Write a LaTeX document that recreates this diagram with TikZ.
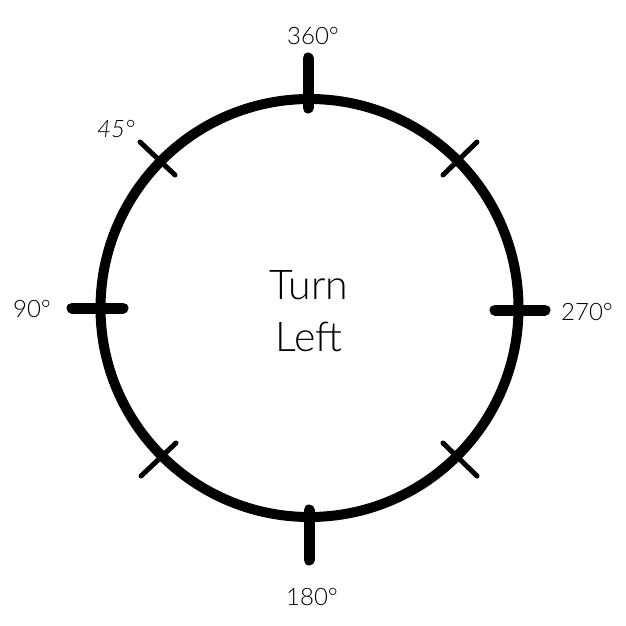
\documentclass[tikz,border=0pt]{standalone}
\usepackage{fontspec}
\setmainfont{Lato Light}
\begin{document}
\begin{tikzpicture}[x=1pt,y=-1pt,
  ring/.style={line width=10pt},
  bigtick/.style={line width=11pt,line cap=round},
  smalltick/.style={line width=5pt,line cap=round},
  deg/.style={font=\fontsize{24}{28}\selectfont},
  center/.style={font=\fontsize{41}{52}\selectfont,align=center}]
\useasboundingbox (0,0) rectangle (626,626);
\coordinate (c) at (309.5,308);
\draw[ring] (c) circle (209);
% big ticks
\coordinate (t1) at (308,58); \coordinate (t2) at (308,108);
\draw[bigtick] (t1) -- (t2);
\coordinate (b1) at (309,510); \coordinate (b2) at (309,560);
\draw[bigtick] (b1) -- (b2);
\coordinate (l1) at (72,308); \coordinate (l2) at (123,308);
\draw[bigtick] (l1) -- (l2);
\coordinate (r1) at (495,310); \coordinate (r2) at (545,310);
\draw[bigtick] (r1) -- (r2);
% small ticks
\coordinate (a1) at (140,142); \coordinate (a2) at (175,175);
\draw[smalltick] (a1) -- (a2);
\coordinate (a3) at (477,142); \coordinate (a4) at (443,175);
\draw[smalltick] (a3) -- (a4);
\coordinate (a5) at (141,476); \coordinate (a6) at (176,443);
\draw[smalltick] (a5) -- (a6);
\coordinate (a7) at (477,476); \coordinate (a8) at (443,443);
\draw[smalltick] (a7) -- (a8);
% labels
\node[deg] (n360) at (313,36) {360°};
\node[deg] (n45) at (116,129) {\itshape 45°};
\node[deg] (n90) at (32,309) {90°};
\node[deg] (n270) at (587,312) {270°};
\node[deg] (n180) at (312,597) {180°};
\node[center] (txt) at (309,311) {Turn\\Left};
\end{tikzpicture}
\end{document}
